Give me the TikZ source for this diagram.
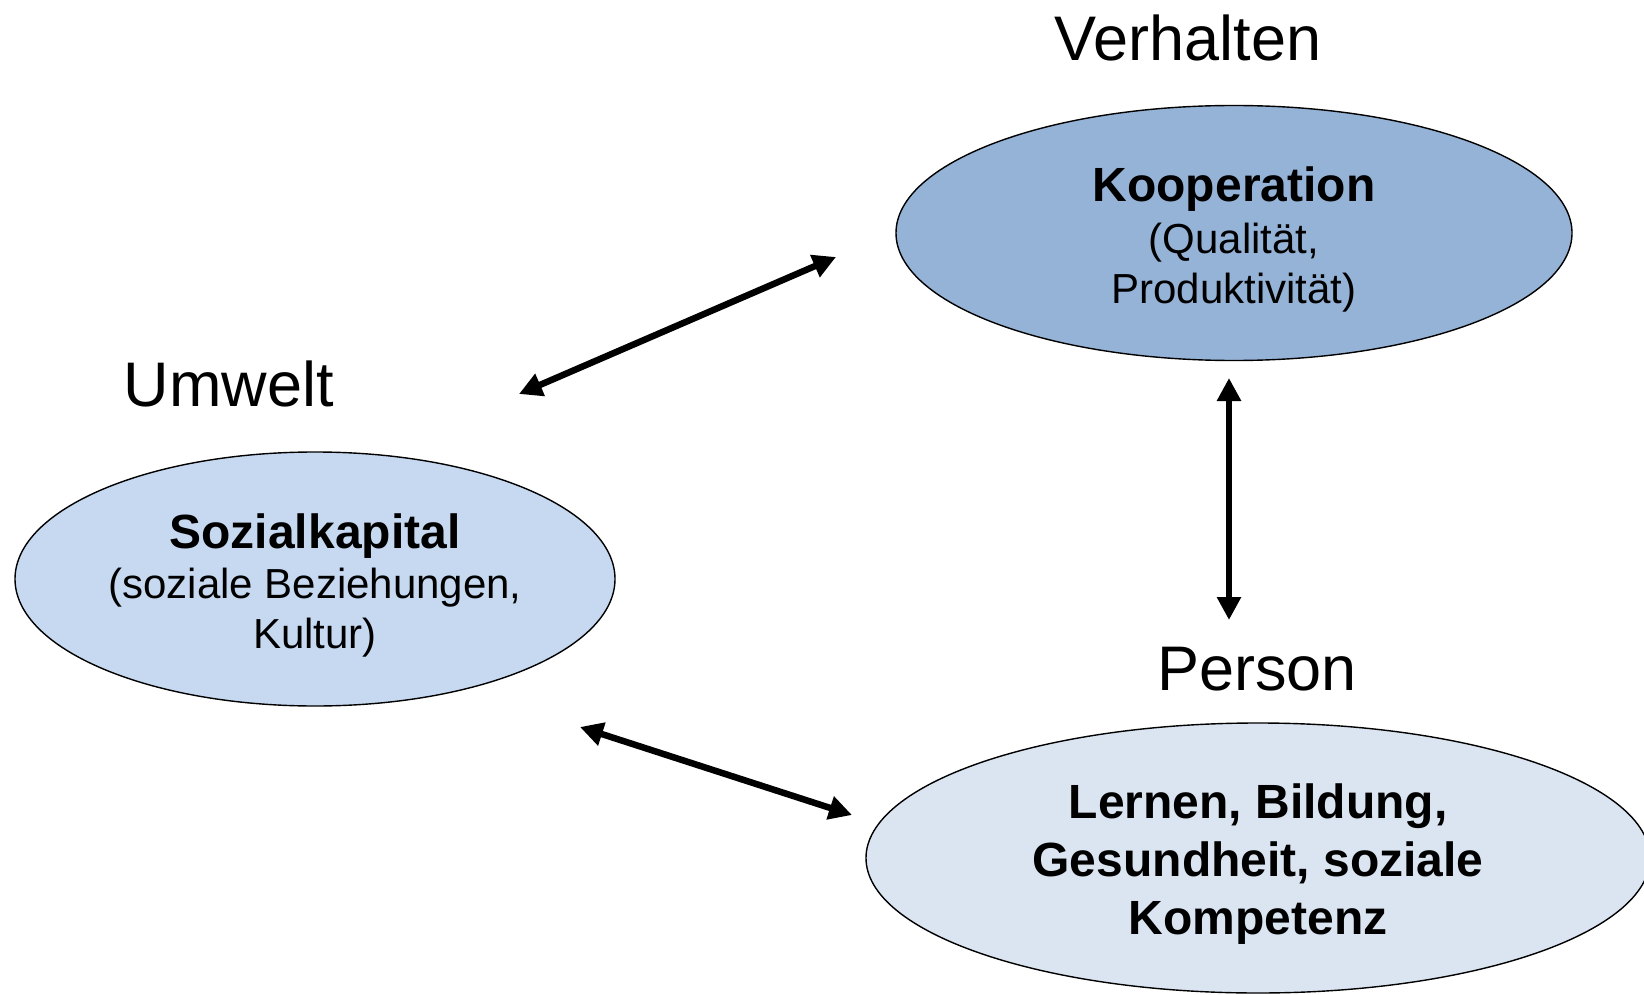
\documentclass[tikz,border=0pt]{standalone}
\usepackage{fontspec}
\setmainfont{Liberation Sans}
\usetikzlibrary{shapes.geometric,arrows.meta}
\definecolor{koopfill}{HTML}{95B3D7}
\definecolor{sozfill}{HTML}{C6D9F0}
\definecolor{lernfill}{HTML}{DBE5F1}
\tikzset{
  oval/.style={ellipse, draw=black, line width=1.4pt, inner sep=0pt},
  ovaltext/.style={inner sep=0pt, align=center, yshift=-6pt},
  heading/.style={anchor=base, inner sep=0pt, font=\fontsize{63}{70}\selectfont},
  link/.style={line width=6.5pt, {Triangle[length=23pt,width=23pt]}-{Triangle[length=23pt,width=23pt]}}
}
\begin{document}
\begin{tikzpicture}[x=1pt,y=-1pt]
\useasboundingbox (0,0) rectangle (1644,995);
\node[oval, fill=koopfill, minimum width=676pt, minimum height=255pt] (koop) at (1234,233) {};
\node[ovaltext, font=\fontsize{42}{50}\selectfont] (kooptext) at (koop.center)
  {{\fontsize{48}{55}\selectfont\bfseries Kooperation}\\[2pt](Qualität,\\Produktivität)};
\node[oval, fill=sozfill, minimum width=600pt, minimum height=254pt] (soz) at (315,579) {};
\node[ovaltext, font=\fontsize{42}{50}\selectfont] (soztext) at (soz.center)
  {{\fontsize{48}{55}\selectfont\bfseries Sozialkapital}\\(soziale Beziehungen,\\Kultur)};
\node[oval, fill=lernfill, minimum width=784pt, minimum height=270pt] (lern) at (1258,858) {};
\node[ovaltext, font=\fontsize{48}{58}\selectfont\bfseries] (lerntext) at (lern.center)
  {Lernen, Bildung,\\Gesundheit, soziale\\Kompetenz};
\node[heading] (verh) at (1188,61) {Verhalten};
\node[heading] (umw) at (229,406) {Umwelt};
\node[heading] (pers) at (1257,690) {Person};
\coordinate (a1s) at (519,394);
\coordinate (a1e) at (836,257);
\coordinate (a2s) at (1229,378);
\coordinate (a2e) at (1229,620);
\coordinate (a3s) at (580,727);
\coordinate (a3e) at (852,815);
\draw[link] (a1s) -- (a1e);
\draw[link] (a2s) -- (a2e);
\draw[link] (a3s) -- (a3e);
\end{tikzpicture}
\end{document}
